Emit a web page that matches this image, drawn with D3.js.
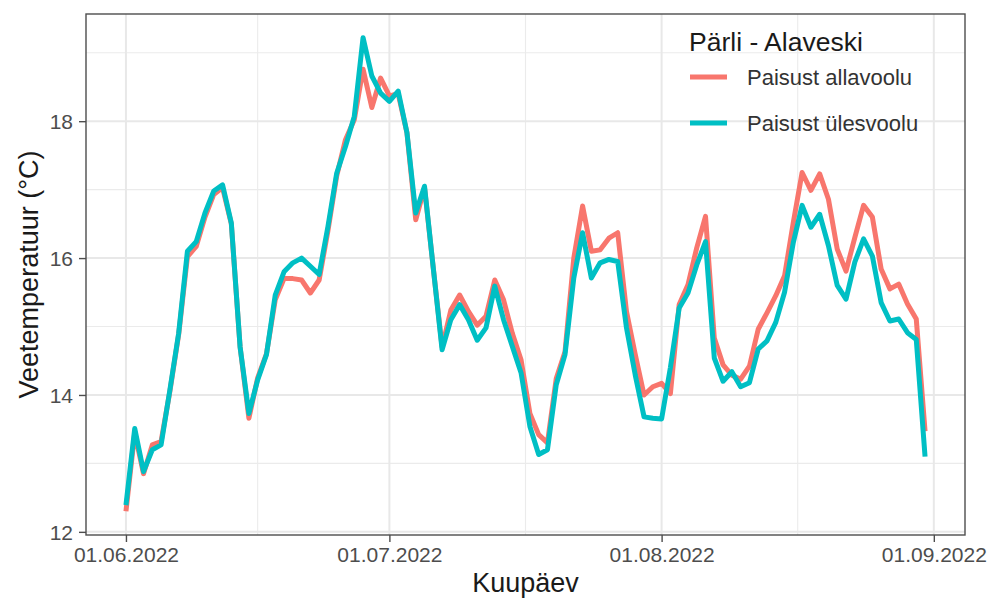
<!DOCTYPE html>
<html><head><meta charset="utf-8">
<script src="https://cdn.jsdelivr.net/npm/d3@7"></script>
<style>body{margin:0;background:#fff;} svg{display:block;font-family:"Liberation Sans",Arial,sans-serif;}</style>
</head><body><svg id="c" width="991" height="599"></svg>
<script>
const startDate = "2022-06-01";
const seriesNames = ["Paisust allavoolu", "Paisust ülesvoolu"];
const seriesColors = ["#F8766D", "#00BFC4"];
const legendTitle = "Pärli - Alaveski";
const xTickLabels = ["01.06.2022", "01.07.2022", "01.08.2022", "01.09.2022"];
const yTicks = [12, 14, 16, 18];
const allavoolu = [12.3,13.45,12.85,13.27,13.32,14.05,14.88,16.02,16.17,16.6,16.93,17.03,16.5,14.7,13.66,14.25,14.6,15.39,15.7,15.7,15.68,15.49,15.68,16.4,17.2,17.73,18.02,18.76,18.2,18.63,18.37,18.4,17.83,16.56,17.03,15.85,14.7,15.24,15.46,15.22,15.02,15.15,15.68,15.39,14.9,14.51,13.73,13.42,13.3,14.24,14.63,16.0,16.76,16.1,16.12,16.29,16.37,15.22,14.59,14.0,14.12,14.17,14.02,15.32,15.61,16.15,16.61,14.83,14.44,14.29,14.23,14.42,14.96,15.2,15.45,15.74,16.52,17.25,16.99,17.23,16.86,16.13,15.81,16.3,16.77,16.6,15.84,15.55,15.62,15.33,15.11,13.47];
const ylesvoolu = [12.39,13.51,12.88,13.2,13.27,14.07,14.9,16.1,16.24,16.66,16.98,17.07,16.51,14.7,13.73,14.22,14.59,15.46,15.8,15.93,16.0,15.88,15.76,16.46,17.24,17.63,18.07,19.22,18.66,18.41,18.29,18.44,17.83,16.66,17.05,15.85,14.66,15.1,15.32,15.1,14.8,14.98,15.59,15.1,14.71,14.32,13.54,13.13,13.2,14.15,14.59,15.71,16.37,15.71,15.93,15.98,15.95,14.98,14.29,13.68,13.66,13.65,14.4,15.27,15.49,15.9,16.24,14.54,14.2,14.34,14.12,14.18,14.67,14.79,15.06,15.5,16.23,16.77,16.45,16.64,16.18,15.6,15.4,15.94,16.28,16.03,15.35,15.08,15.11,14.91,14.81,13.1];

const parse = d3.utcParse("%d.%m.%Y");
const d0 = d3.utcParse("%Y-%m-%d")(startDate);
const dates = allavoolu.map((_, i) => d3.utcDay.offset(d0, i));
const series = [allavoolu, ylesvoolu].map((vals, k) => ({name: seriesNames[k], color: seriesColors[k], pts: vals.map((v, i) => ({d: dates[i], v}))}));

const L = 86, R = 965, T = 14, B = 535;
const svg = d3.select("#c");

const tExt = d3.extent(dates), tSpan = tExt[1] - tExt[0];
const x = d3.scaleUtc().domain([new Date(+tExt[0] - 0.05 * tSpan), new Date(+tExt[1] + 0.05 * tSpan)]).range([L, R]);
const allV = allavoolu.concat(ylesvoolu);
const vExt = d3.extent(allV), vSpan = vExt[1] - vExt[0];
const y = d3.scaleLinear().domain([vExt[0] - 0.05 * vSpan, vExt[1] + 0.05 * vSpan]).range([B, T]);

const xMajor = xTickLabels.map(parse);
const xMinor = d3.pairs(xMajor).map(([a, b]) => new Date((+a + +b) / 2));
const yMinor = d3.pairs(yTicks).map(([a, b]) => (a + b) / 2).concat([yTicks[yTicks.length - 1] + 1]).filter(v => y(v) > T);

const g = svg.append("g");
g.selectAll(".xmin").data(xMinor).join("line").attr("x1", d => x(d)).attr("x2", d => x(d)).attr("y1", T).attr("y2", B).attr("stroke", "#EBEBEB").attr("stroke-width", 1.1);
g.selectAll(".ymin").data(yMinor).join("line").attr("x1", L).attr("x2", R).attr("y1", d => y(d)).attr("y2", d => y(d)).attr("stroke", "#EBEBEB").attr("stroke-width", 1.1);
g.selectAll(".xmaj").data(xMajor).join("line").attr("x1", d => x(d)).attr("x2", d => x(d)).attr("y1", T).attr("y2", B).attr("stroke", "#E8E8E8").attr("stroke-width", 2);
g.selectAll(".ymaj").data(yTicks).join("line").attr("x1", L).attr("x2", R).attr("y1", d => y(d)).attr("y2", d => y(d)).attr("stroke", "#E8E8E8").attr("stroke-width", 2);

const line = d3.line().x(p => x(p.d)).y(p => y(p.v));
svg.append("g").selectAll("path").data(series).join("path")
  .attr("d", s => line(s.pts)).attr("fill", "none").attr("stroke", s => s.color)
  .attr("stroke-width", 5).attr("stroke-linejoin", "round").attr("stroke-linecap", "butt");

svg.append("rect").attr("x", L).attr("y", T).attr("width", R - L).attr("height", B - T).attr("fill", "none").attr("stroke", "#4d4d4d").attr("stroke-width", 1.4);

const xa = svg.append("g").attr("transform", `translate(0,${B})`).call(d3.axisBottom(x).tickValues(xMajor).tickFormat(d3.utcFormat("%d.%m.%Y")).tickSize(7).tickPadding(5));
const ya = svg.append("g").attr("transform", `translate(${L},0)`).call(d3.axisLeft(y).tickValues(yTicks).tickFormat(d3.format("d")).tickSize(7).tickPadding(6));
[xa, ya].forEach(a => {
  a.select(".domain").remove();
  a.selectAll(".tick line").attr("stroke", "#4d4d4d").attr("stroke-width", 1.4);
  a.selectAll(".tick text").attr("fill", "#4d4d4d").style("font-size", "21px").style("font-family", "Liberation Sans, Arial, sans-serif");
});
ya.selectAll(".tick text").attr("dy", "0.36em");

svg.append("text").attr("x", (L + R) / 2).attr("y", 592).attr("text-anchor", "middle").style("font-size", "27px").attr("fill", "#1a1a1a").text("Kuupäev");
svg.append("text").attr("transform", `translate(38,${(T + B) / 2}) rotate(-90)`).attr("text-anchor", "middle").style("font-size", "27px").attr("fill", "#1a1a1a").text("Veetemperatuur (°C)");

const lg = svg.append("g");
lg.append("text").attr("x", 689).attr("y", 51).style("font-size", "26.5px").attr("fill", "#1a1a1a").text(legendTitle);
const items = lg.selectAll(".it").data(series).join("g").attr("transform", (d, i) => `translate(0,${77 + i * 46})`);
items.append("line").attr("x1", 690).attr("x2", 727).attr("y1", 0).attr("y2", 0).attr("stroke", d => d.color).attr("stroke-width", 5);
items.append("text").attr("x", 747).attr("y", 8).style("font-size", "22px").attr("fill", "#333").text(d => d.name);
</script></body></html>
